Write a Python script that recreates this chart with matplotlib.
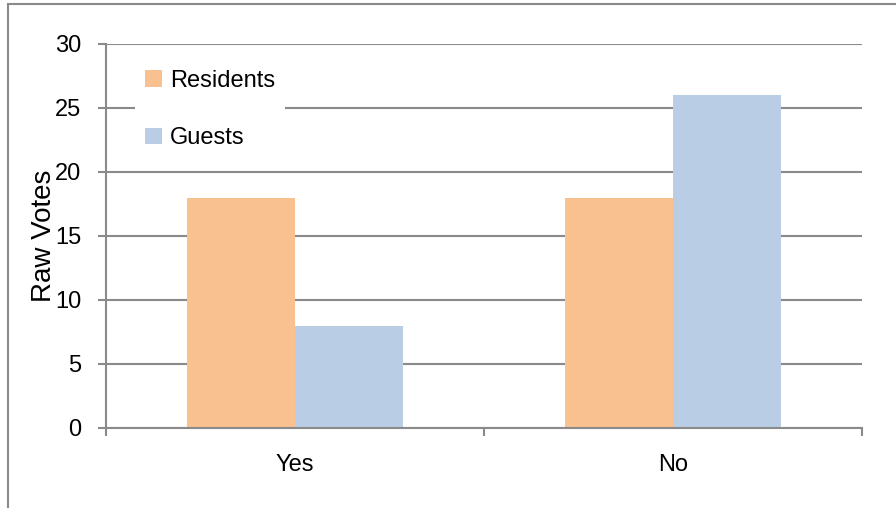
import matplotlib

matplotlib.use("Agg")
import matplotlib.pyplot as plt
import numpy as np
from matplotlib.patches import Rectangle

categories = ["Yes", "No"]
residents = [18, 18]
guests = [8, 26]
series_names = ["Residents", "Guests"]
y_ticks = [0, 5, 10, 15, 20, 25, 30]

plt.rcParams["font.family"] = ["Liberation Sans", "DejaVu Sans"]

W, H = 896, 508
fig = plt.figure(figsize=(W / 100, H / 100), dpi=100)
ax = fig.add_axes([106 / W, 1 - 428 / H, (862 - 106) / W, (428 - 44) / H])

grey = "#8a8a8a"
orange = "#F9C190"
blue = "#B9CDE5"

x = np.arange(len(categories)) + 0.5
bw = 108 / 378
ax.bar(x - bw / 2, residents, bw, color=orange, label=series_names[0], zorder=2)
ax.bar(x + bw / 2, guests, bw, color=blue, label=series_names[1], zorder=2)

ax.set_xlim(0, len(categories))
ax.set_ylim(0, 30)
ax.set_yticks(y_ticks)
ax.yaxis.grid(True, color=grey, linewidth=1.5, zorder=0)
ax.set_axisbelow(True)

ax.set_xticks(x)
ax.set_xticklabels(categories)
ax.set_xticks(np.arange(len(categories) + 1), minor=True)
ax.tick_params(axis="x", which="major", length=0, pad=18.5, labelsize=17)
ax.tick_params(axis="x", which="minor", length=6, width=1.5, color=grey)
ax.tick_params(axis="y", length=6, width=1.5, color=grey, pad=12, labelsize=17)

for s in ["top", "right"]:
    ax.spines[s].set_visible(False)
for s in ["left", "bottom"]:
    ax.spines[s].set_color(grey)
    ax.spines[s].set_linewidth(1.5)

ax.set_ylabel("Raw Votes", fontsize=20)
ax.yaxis.set_label_coords(-0.065, 0.5)

leg = ax.legend(
    loc="upper left",
    bbox_to_anchor=(135 / W, 1 - 60 / H),
    bbox_transform=fig.transFigure,
    fontsize=17,
    frameon=True,
    facecolor="white",
    edgecolor="none",
    framealpha=1,
    fancybox=False,
    handlelength=0.72,
    handleheight=0.72,
    handletextpad=0.34,
    labelspacing=1.5,
    borderpad=0.42,
    borderaxespad=0,
)

fig.patches.append(
    Rectangle((8 / W, -0.1), 1.2, 1 - 4 / H + 0.1, transform=fig.transFigure,
              fill=False, edgecolor=grey, linewidth=1.5)
)

fig.savefig("out.png", dpi=100)
